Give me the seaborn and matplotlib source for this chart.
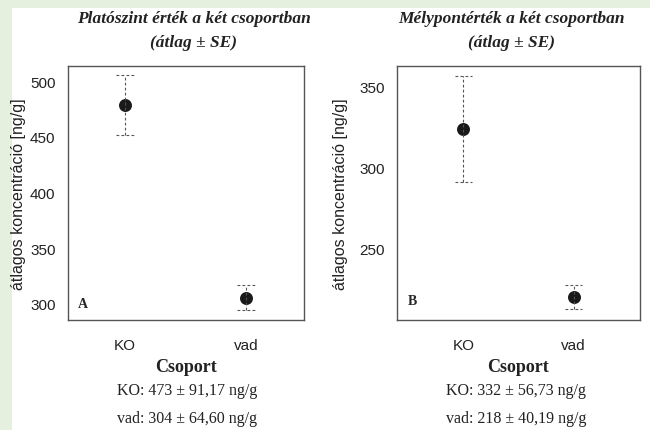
import numpy as np
import pandas as pd
import matplotlib
matplotlib.use("Agg")
import matplotlib.pyplot as plt
from matplotlib.patches import Rectangle
import seaborn as sns

# values (mean and standard error per group)
groups = ["KO", "vad"]
plato_mean = [478.5, 305.5]
plato_se = [27.0, 11.0]
mely_mean = [324.0, 219.5]
mely_se = [33.0, 7.5]

plato_title = "Platószint érték a két csoportban\n(átlag ± SE)"
mely_title = "Mélypontérték a két csoportban\n(átlag ± SE)"
plato_notes = ["KO: 473 ± 91,17 ng/g", "vad: 304 ± 64,60 ng/g"]
mely_notes = ["KO: 332 ± 56,73 ng/g", "vad: 218 ± 40,19 ng/g"]

sns.set_style("white")
plt.rcParams["font.family"] = ["Liberation Sans", "DejaVu Sans"]
SERIF = ["Liberation Serif", "DejaVu Serif"]


def long_frame(means, ses):
    """Expand mean/SE into three rows per group so pointplot's
    interval (0-100 percentile) spans exactly mean - SE .. mean + SE."""
    rows = []
    for g, m, s in zip(groups, means, ses):
        for v in (m - s, m, m + s):
            rows.append({"csoport": g, "ertek": v})
    return pd.DataFrame(rows)


def draw_panel(ax, means, ses, ylim, yticks, xlim, letter, letter_y):
    df = long_frame(means, ses)
    sns.pointplot(data=df, x="csoport", y="ertek", order=groups,
                  estimator="mean", errorbar=("pi", 100), capsize=0.15,
                  linestyle="none", color="#1a1a1a", markersize=7.3,
                  err_kws={"color": "#555555", "linestyle": (0, (2.5, 2)),
                           "linewidth": 0.8},
                  ax=ax)
    ax.set_ylim(*ylim)
    ax.set_xlim(*xlim)
    ax.set_yticks(yticks)
    ax.tick_params(axis="both", direction="out", length=5, width=0.8,
                   color="#555555", labelsize=11, labelcolor="#222222",
                   pad=4)
    ax.tick_params(axis="x", pad=8)
    for sp in ax.spines.values():
        sp.set_color("#555555")
        sp.set_linewidth(1.0)
    ax.set_ylabel("átlagos koncentráció [ng/g]", fontsize=11.5,
                  color="#222222")
    ax.set_xlabel("Csoport", fontsize=13, family=SERIF, weight="bold",
                  labelpad=4, color="#222222")
    ax.text(0.065, letter_y, letter, transform=ax.transAxes, family=SERIF,
            weight="bold", fontsize=10, va="center", ha="center")


fig = plt.figure(figsize=(6.5, 4.31), dpi=100)
fig.patch.set_facecolor("white")
fig.patches.append(Rectangle((0, 0), 12 / 650, 1, transform=fig.transFigure,
                             facecolor="#e6f0df", edgecolor="none", zorder=-1))
fig.patches.append(Rectangle((0, 1 - 9 / 431), 1, 9 / 431,
                             transform=fig.transFigure,
                             facecolor="#e6f0df", edgecolor="none", zorder=-1))

ax1 = fig.add_axes([68 / 650, 110 / 431, 236 / 650, 254 / 431])
ax2 = fig.add_axes([397 / 650, 110 / 431, 243 / 650, 254 / 431])

draw_panel(ax1, plato_mean, plato_se, (285.5, 513.5), [300, 350, 400, 450, 500],
           (-0.47, 1.48), "A", 0.065)
draw_panel(ax2, mely_mean, mely_se, (205.3, 363.0), [250, 300, 350],
           (-0.6, 1.6), "B", 0.075)
ax1.yaxis.set_label_coords(-0.178, 0.5)
ax2.yaxis.set_label_coords(-0.2, 0.5)

for x, title in ((194, plato_title), (511, mely_title)):
    fig.text(x / 650, 1 - 31 / 431, title, ha="center", va="center",
             family=SERIF, weight="bold", style="italic", fontsize=12.5,
             linespacing=1.7, color="#222222")

for x, notes in ((187, plato_notes), (516, mely_notes)):
    for y, line in zip((391, 419), notes):
        fig.text(x / 650, 1 - y / 431, line, ha="center", va="center",
                 family=SERIF, fontsize=11.5, color="#222222")

fig.savefig("out.png", dpi=100)
